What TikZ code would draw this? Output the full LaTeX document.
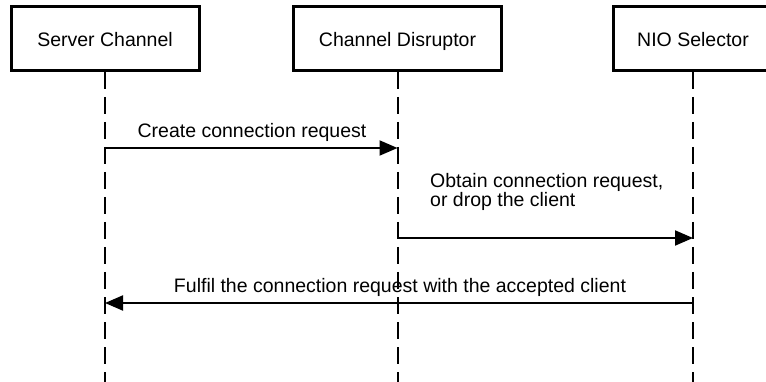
\documentclass[tikz,border=0pt]{standalone}
\usepackage{fontspec}
\setmainfont{Liberation Sans}
\usetikzlibrary{arrows.meta}
\begin{document}
\begin{tikzpicture}[x=1pt,y=-1pt,
  actor/.style={draw,line width=3pt,minimum height=64pt,inner sep=0pt,text height=21pt,text depth=4pt,font=\fontsize{19.5}{20}\selectfont},
  lifeline/.style={line width=2pt,dash pattern=on 17pt off 8pt},
  msg/.style={line width=2pt,-{Triangle[length=18pt,width=15pt]}},
  msgtext/.style={font=\fontsize{19.5}{19}\selectfont,inner sep=0pt}]
\useasboundingbox (0,0) rectangle (766,382);
\clip (0,0) rectangle (766,382);

\node[actor,minimum width=188pt] (srv) at (105,38.5) {Server Channel};
\node[actor,minimum width=208pt] (dis) at (397.5,38.5) {Channel Disruptor};
\node[actor,minimum width=160pt] (nio) at (693,38.5) {NIO Selector};

\coordinate (srv-end) at (105,382);
\coordinate (dis-end) at (397.5,382);
\coordinate (nio-end) at (693,382);
\draw[lifeline] (srv.south) -- (srv-end);
\draw[lifeline] (dis.south) -- (dis-end);
\draw[lifeline] (nio.south) -- (nio-end);

% messages
\coordinate (m1a) at (105,148);
\coordinate (m1b) at (397.5,148);
\coordinate (m2a) at (397.5,238);
\coordinate (m2b) at (693,238);
\coordinate (m3a) at (693,303);
\coordinate (m3b) at (105,303);

\draw[msg] (m1a) -- (m1b);
\node[msgtext,anchor=base] (t1) at (252,138) {Create connection request};

\draw[msg] (m2a) -- (m2b);
\node[msgtext,anchor=base west,align=left] (t2) at (430,207) {Obtain connection request,\\or drop the client};

\draw[msg] (m3a) -- (m3b);
\node[msgtext,anchor=base] (t3) at (400,293) {Fulfil the connection request with the accepted client};
\end{tikzpicture}
\end{document}
